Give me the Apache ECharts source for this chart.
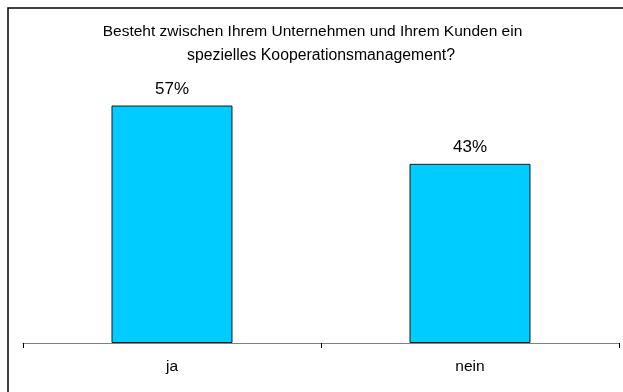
<!DOCTYPE html>
<html>
<head>
<meta charset="utf-8">
<script src="https://cdn.jsdelivr.net/npm/echarts@6/dist/echarts.min.js"></script>
<style>
  html, body { margin: 0; padding: 0; background: #fff; }
  #chart { width: 623px; height: 392px; }
</style>
</head>
<body>
<div id="chart"></div>
<script>
// Survey answers and their shares in percent
const categories = ['ja', 'nein'];
const shares = [57, 43];
const titleLines = [
  'Besteht zwischen Ihrem Unternehmen und Ihrem Kunden ein',
  'spezielles Kooperationsmanagement?'
];

const FONT = '"Liberation Sans", Arial, Helvetica, sans-serif';

const chart = echarts.init(document.getElementById('chart'), null, { renderer: 'canvas' });

chart.setOption({
  animation: false,
  backgroundColor: '#ffffff',
  grid: { left: 23, right: 4, top: 93, bottom: 49, containLabel: false },
  xAxis: {
    type: 'category',
    data: categories,
    axisLine: { show: true, lineStyle: { color: '#808080', width: 1.2 } },
    axisTick: { show: true, length: 5, lineStyle: { color: '#000000', width: 1 } },
    axisLabel: { color: '#000000', fontFamily: FONT, fontSize: 15.5, margin: 16 }
  },
  yAxis: {
    type: 'value',
    min: 0,
    max: 60,
    show: false,
    splitLine: { show: false }
  },
  series: [{
    type: 'bar',
    data: shares,
    barWidth: '40.6%',
    itemStyle: { color: '#00CCFF', borderColor: '#1a1a1a', borderWidth: 1 },
    label: {
      show: true,
      position: 'top',
      distance: 8,
      formatter: p => p.value + '%',
      color: '#000000',
      fontFamily: FONT,
      fontSize: 17
    }
  }],
  graphic: [
    {
      type: 'rect',
      shape: { x: 8, y: 8, width: 700, height: 500 },
      style: { fill: 'none', stroke: '#000000', lineWidth: 1.5 },
      silent: true
    },
    {
      type: 'text',
      x: 312.5, y: 31.5,
      style: {
        text: titleLines[0], fill: '#000000', font: '15.5px ' + FONT,
        textAlign: 'center', textVerticalAlign: 'middle'
      }
    },
    {
      type: 'text',
      x: 321, y: 56,
      style: {
        text: titleLines[1], fill: '#000000', font: '15.8px ' + FONT,
        textAlign: 'center', textVerticalAlign: 'middle'
      }
    }
  ]
});
</script>
</body>
</html>
